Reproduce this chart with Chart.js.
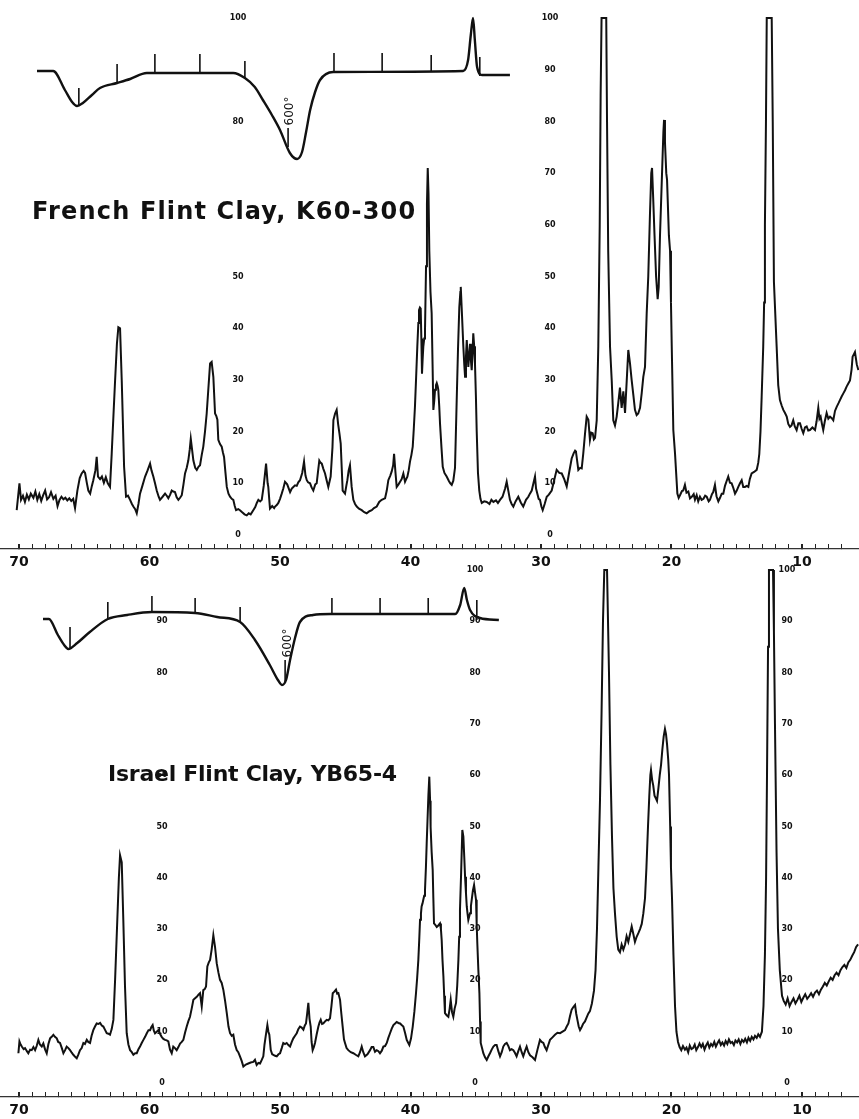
<!DOCTYPE html>
<html>
<head>
<meta charset="utf-8">
<title>Flint clay X-ray and DTA patterns</title>
<script src="https://cdn.jsdelivr.net/npm/chart.js@4/dist/chart.umd.min.js"></script>
<style>
  body { margin: 0; background: #fff; width: 859px; height: 1119px; position: relative; overflow: hidden; }
  .panel { position: absolute; left: 0; width: 859px; }
  #topPanel { top: 0; height: 569px; }
  #bottomPanel { top: 555px; height: 562px; }
</style>
</head>
<body>
<div class="panel" id="topPanel"><canvas id="frenchChart"></canvas></div>
<div class="panel" id="bottomPanel"><canvas id="israelChart"></canvas></div>
<script>
// 2-theta (degrees) and intensity
const frenchTwoTheta = [70.18,69.97,69.85,69.7,69.55,69.4,69.25,69.1,68.9,68.75,68.6,68.45,68.3,68.15,68.0,67.85,67.7,67.55,67.37,67.2,67.05,66.9,66.75,66.6,66.45,66.3,66.15,66.0,65.85,65.71,65.53,65.35,65.2,65.05,64.94,64.8,64.69,64.55,64.42,64.31,64.15,64.05,63.95,63.79,63.65,63.5,63.35,63.2,63.03,62.9,62.75,62.64,62.5,62.39,62.26,62.13,61.95,61.8,61.65,61.49,61.35,61.24,61.1,60.98,60.85,60.73,60.55,60.34,60.15,59.96,59.85,59.71,59.58,59.45,59.3,59.2,59.0,58.81,58.68,58.56,58.42,58.3,58.18,58.05,57.92,57.79,57.66,57.53,57.4,57.28,57.15,57.03,56.92,56.84,56.74,56.64,56.5,56.38,56.25,56.13,56.0,55.88,55.75,55.62,55.5,55.36,55.24,55.11,54.98,54.88,54.8,54.73,54.6,54.47,54.38,54.29,54.18,54.08,53.95,53.83,53.7,53.58,53.47,53.37,53.2,53.07,52.9,52.72,52.55,52.4,52.25,52.05,51.9,51.78,51.66,51.52,51.4,51.25,51.07,50.95,50.9,50.77,50.6,50.45,50.38,50.25,50.13,50.0,49.87,49.75,49.62,49.45,49.23,49.1,48.98,48.85,48.72,48.6,48.47,48.3,48.16,48.05,47.95,47.85,47.7,47.58,47.45,47.3,47.19,47.1,46.99,46.9,46.8,46.68,46.55,46.42,46.3,46.12,45.98,45.91,45.78,45.66,45.55,45.45,45.35,45.2,45.02,44.92,44.84,44.74,44.64,44.51,44.38,44.25,44.12,43.95,43.74,43.55,43.36,43.15,42.97,42.8,42.59,42.4,42.21,42.05,41.95,41.82,41.7,41.55,41.44,41.33,41.26,41.15,41.06,40.92,40.8,40.68,40.55,40.42,40.33,40.24,40.14,40.04,39.93,39.83,39.75,39.66,39.57,39.48,39.4,39.35,39.28,39.22,39.17,39.12,39.07,39.02,38.95,38.89,38.81,38.74,38.68,38.62,38.56,38.47,38.38,38.31,38.25,38.18,38.12,38.05,37.99,37.92,37.87,37.8,37.74,37.63,37.53,37.4,37.23,37.05,36.95,36.84,36.72,36.59,36.46,36.36,36.26,36.18,36.15,36.08,35.95,35.88,35.82,35.75,35.69,35.63,35.57,35.5,35.44,35.38,35.31,35.25,35.19,35.12,35.06,34.99,34.93,34.83,34.73,34.64,34.54,34.35,34.16,33.95,33.8,33.65,33.45,33.3,33.14,32.95,32.75,32.63,32.5,32.38,32.25,32.12,31.95,31.74,31.55,31.36,31.15,30.97,30.85,30.71,30.58,30.46,30.38,30.28,30.18,30.08,29.97,29.87,29.72,29.56,29.4,29.18,29.0,28.8,28.6,28.41,28.22,28.03,27.85,27.65,27.5,27.39,27.32,27.14,27.0,26.88,26.76,26.63,26.5,26.37,26.25,26.15,26.04,25.95,25.86,25.73,25.61,25.5,25.43,25.36,25.15,25.0,24.94,24.85,24.71,24.58,24.46,24.33,24.2,24.08,23.95,23.82,23.69,23.56,23.43,23.31,23.18,23.05,22.92,22.8,22.67,22.55,22.41,22.28,22.16,22.03,21.9,21.78,21.65,21.55,21.49,21.4,21.3,21.18,21.06,20.98,20.88,20.75,20.62,20.57,20.5,20.4,20.34,20.2,20.11,20.04,19.98,19.86,19.73,19.55,19.45,19.35,19.2,19.1,18.97,18.85,18.71,18.58,18.45,18.3,18.2,18.07,17.95,17.82,17.69,17.55,17.42,17.3,17.15,17.05,16.9,16.8,16.67,16.55,16.41,16.28,16.15,16.03,15.9,15.78,15.65,15.52,15.39,15.26,15.13,15.0,14.88,14.75,14.62,14.5,14.37,14.24,14.11,14.0,13.86,13.67,13.47,13.35,13.27,13.18,13.09,12.97,12.9,12.84,12.76,12.7,12.5,12.32,12.24,12.15,11.94,11.82,11.69,11.55,11.43,11.3,11.17,11.05,10.92,10.8,10.67,10.55,10.41,10.28,10.15,10.02,9.9,9.77,9.64,9.52,9.39,9.2,9.0,8.88,8.75,8.66,8.57,8.47,8.37,8.25,8.11,7.98,7.85,7.72,7.6,7.47,7.34,7.2,7.09,6.96,6.83,6.7,6.58,6.45,6.32,6.2,6.12,6.02,5.94,5.8,5.68];
const frenchIntensity = [4.8,10.0,6.8,7.6,6.4,7.8,6.9,8.0,7.2,8.4,6.8,7.9,6.6,7.7,8.6,6.9,7.3,8.3,7.0,7.6,5.6,6.8,7.4,6.9,7.2,6.7,7.1,6.6,7.0,5.2,8.6,11.0,11.9,12.4,12.0,10.0,8.6,8.0,9.5,10.6,12.5,15.1,11.3,10.8,11.3,10.1,11.2,10.0,9.3,15.7,24.0,29.9,37.0,40.2,40.0,29.9,13.2,7.4,7.6,6.8,6.0,5.5,5.0,4.2,6.0,8.0,9.5,11.3,12.5,13.8,12.5,11.3,10.0,8.6,7.4,6.8,7.4,8.0,7.6,7.1,7.8,8.6,8.4,8.3,7.3,6.8,7.2,7.7,9.8,11.9,13.0,14.4,16.5,18.6,16.5,14.4,13.0,12.6,13.2,13.5,15.5,17.1,20.0,23.5,28.0,33.2,33.5,30.6,23.5,23.0,22.3,18.4,17.6,17.1,16.0,15.1,12.0,9.3,8.0,7.4,7.0,6.8,5.6,4.8,5.0,4.8,4.4,4.0,3.8,4.2,4.0,4.8,5.4,6.2,6.8,6.5,6.8,9.5,13.8,10.0,9.3,5.1,5.6,5.2,5.5,5.8,6.2,7.0,8.0,9.0,10.3,9.8,8.3,9.0,9.3,9.6,9.5,10.2,10.6,12.0,14.2,11.5,10.6,10.2,10.0,9.2,8.6,9.8,10.0,12.0,14.4,14.0,13.8,12.8,11.9,10.5,9.3,11.3,17.0,22.2,23.5,24.2,21.5,19.7,17.7,8.6,8.0,9.5,10.6,12.5,13.5,9.3,6.8,6.0,5.5,5.1,4.8,4.4,4.2,4.6,4.8,5.2,5.5,6.4,6.8,7.0,7.1,8.6,10.6,11.5,12.3,13.5,15.7,12.0,9.3,9.8,10.3,10.8,11.9,10.3,10.8,11.3,12.5,14.2,15.5,17.1,20.5,24.8,30.5,36.4,41.0,43.5,44.0,43.8,38.0,31.2,34.0,36.4,38.0,39.6,52.0,64.0,71.0,66.0,55.0,47.0,42.9,33.0,24.2,26.0,28.1,29.0,29.4,28.8,28.1,25.0,21.6,17.0,13.2,12.0,11.3,10.4,10.0,9.7,10.5,13.0,26.1,36.0,44.1,47.0,48.0,44.0,36.4,33.0,30.6,34.5,37.7,35.0,32.5,35.0,37.0,34.0,31.9,35.0,39.0,36.5,33.2,27.0,20.3,12.0,8.6,7.0,6.2,6.5,6.4,6.0,6.8,6.4,6.7,6.2,6.8,7.4,9.0,10.3,8.5,6.8,6.0,5.5,6.5,7.4,6.3,5.5,6.8,7.4,8.0,8.6,10.0,11.3,9.0,8.0,7.0,6.8,5.5,4.8,6.0,7.4,7.8,8.6,10.5,12.6,12.0,11.9,10.8,9.4,12.0,14.8,15.8,16.3,16.1,12.6,13.0,12.9,15.8,19.5,22.9,22.3,18.4,19.8,19.7,18.5,18.8,22.2,36.4,60.0,85.0,100,100,100,80.0,55.0,36.4,29.9,22.2,21.2,22.9,25.5,28.5,24.6,27.8,23.6,29.9,35.8,33.2,29.9,27.0,24.2,23.2,23.5,24.6,27.5,30.6,32.5,42.9,50.0,62.0,70.0,71.0,65.0,58.0,50.0,45.6,48.0,58.0,68.0,78.0,80.3,76.0,70.0,68.7,58.0,55.0,45.0,36.4,20.3,15.8,8.0,7.2,7.7,8.5,8.6,9.7,8.2,8.4,7.1,7.4,7.9,6.8,7.7,6.5,7.4,6.8,7.0,7.6,7.4,6.5,6.8,7.9,8.3,9.7,7.5,6.5,7.2,8.0,8.0,9.5,10.4,11.3,10.1,10.0,9.1,8.0,8.6,9.3,10.0,10.6,9.3,9.3,9.5,9.3,10.8,11.9,12.2,12.6,14.0,15.7,20.0,26.7,36.4,45.0,60.0,80.0,100,100,100,80.0,49.0,36.4,29.0,26.1,25.0,24.2,23.6,22.9,21.5,20.9,21.2,22.2,21.0,20.3,21.6,21.6,20.5,19.7,20.8,21.0,20.2,20.3,20.8,20.3,22.0,24.6,22.5,22.9,21.5,20.3,22.0,23.6,22.5,22.9,22.6,22.2,24.0,24.8,25.5,26.1,26.8,27.4,28.0,28.7,29.3,29.9,32.0,34.5,35.0,35.4,33.0,31.9];

// 2-theta (degrees) and intensity
const israelTwoTheta = [70.05,69.97,69.88,69.79,69.65,69.54,69.4,69.29,69.15,69.03,68.9,68.77,68.65,68.52,68.4,68.26,68.14,68.0,67.88,67.75,67.62,67.5,67.37,67.25,67.11,67.0,66.86,66.72,66.6,66.47,66.35,66.22,66.09,65.96,65.84,65.7,65.58,65.45,65.33,65.2,65.07,64.95,64.81,64.7,64.56,64.44,64.31,64.18,64.05,63.92,63.79,63.66,63.54,63.4,63.28,63.15,63.03,62.9,62.77,62.64,62.47,62.35,62.26,62.13,62.01,61.88,61.75,61.62,61.49,61.36,61.24,61.1,60.98,60.85,60.73,60.6,60.47,60.34,60.21,60.08,59.96,59.86,59.76,59.67,59.58,59.45,59.33,59.2,59.07,58.94,58.81,58.68,58.56,58.43,58.3,58.18,58.05,57.92,57.79,57.66,57.53,57.41,57.28,57.15,57.03,56.9,56.77,56.64,56.51,56.38,56.25,56.13,56.0,55.88,55.77,55.67,55.57,55.46,55.36,55.24,55.11,54.98,54.85,54.72,54.6,54.47,54.34,54.21,54.08,53.95,53.83,53.7,53.58,53.45,53.32,53.2,53.07,52.94,52.81,52.62,52.43,52.25,52.05,51.92,51.79,51.66,51.53,51.4,51.28,51.19,51.1,50.97,50.89,50.82,50.71,50.6,50.51,50.38,50.25,50.12,50.0,49.87,49.75,49.62,49.49,49.36,49.23,49.1,48.98,48.85,48.72,48.6,48.47,48.34,48.21,48.1,48.01,47.92,47.83,47.74,47.65,47.58,47.5,47.41,47.32,47.19,47.06,46.97,46.88,46.78,46.68,46.55,46.42,46.3,46.17,46.06,45.96,45.84,45.71,45.62,45.53,45.4,45.3,45.2,45.1,45.02,44.9,44.77,44.58,44.38,44.2,44.0,43.87,43.74,43.62,43.49,43.3,43.1,42.98,42.85,42.72,42.59,42.46,42.34,42.2,42.08,41.95,41.82,41.7,41.57,41.44,41.31,41.18,41.06,40.93,40.8,40.68,40.55,40.42,40.29,40.19,40.09,39.96,39.83,39.7,39.58,39.49,39.4,39.33,39.27,39.2,39.15,39.08,39.02,38.95,38.89,38.82,38.76,38.7,38.63,38.56,38.5,38.46,38.38,38.3,38.25,38.2,38.1,37.99,37.87,37.74,37.67,37.61,37.55,37.48,37.42,37.36,37.23,37.1,37.0,36.92,36.82,36.72,36.62,36.51,36.42,36.33,36.27,36.21,36.12,36.03,35.95,35.88,35.82,35.75,35.69,35.63,35.57,35.5,35.44,35.37,35.31,35.22,35.13,35.05,34.98,34.93,34.88,34.8,34.72,34.67,34.62,34.52,34.42,34.29,34.16,34.03,33.91,33.78,33.65,33.52,33.4,33.27,33.14,33.01,32.89,32.76,32.63,32.5,32.38,32.25,32.12,32.0,31.87,31.74,31.61,31.48,31.36,31.23,31.1,30.97,30.84,30.65,30.46,30.27,30.08,29.95,29.82,29.7,29.57,29.44,29.31,29.12,28.93,28.74,28.54,28.35,28.16,28.03,27.9,27.78,27.65,27.52,27.39,27.3,27.21,27.11,27.01,26.9,26.78,26.63,26.5,26.38,26.25,26.1,25.94,25.82,25.71,25.6,25.48,25.36,25.25,25.15,24.94,24.79,24.68,24.56,24.45,24.33,24.2,24.08,23.95,23.82,23.69,23.56,23.44,23.31,23.18,23.05,22.92,22.8,22.67,22.54,22.41,22.28,22.16,22.03,21.92,21.8,21.7,21.62,21.57,21.48,21.4,21.3,21.2,21.11,21.0,20.9,20.8,20.7,20.6,20.5,20.42,20.34,20.25,20.19,20.1,20.04,19.96,19.85,19.73,19.62,19.5,19.38,19.25,19.12,18.97,18.85,18.72,18.6,18.47,18.35,18.22,18.1,17.97,17.85,17.72,17.6,17.47,17.35,17.22,17.1,16.97,16.85,16.72,16.6,16.47,16.35,16.22,16.1,15.97,15.85,15.72,15.6,15.47,15.35,15.22,15.1,14.97,14.85,14.72,14.6,14.47,14.35,14.22,14.1,13.97,13.85,13.72,13.6,13.47,13.35,13.22,13.07,12.95,12.84,12.75,12.68,12.6,12.53,12.22,12.15,12.07,11.95,11.84,11.7,11.53,11.4,11.25,11.1,10.95,10.8,10.65,10.5,10.35,10.2,10.05,9.9,9.75,9.6,9.45,9.3,9.15,9.0,8.85,8.7,8.55,8.4,8.25,8.1,7.95,7.8,7.65,7.5,7.35,7.2,7.05,6.9,6.75,6.6,6.45,6.3,6.15,6.0,5.85,5.7];
const israelIntensity = [5.8,8.1,7.5,7.1,6.6,6.8,6.2,5.8,6.5,6.4,7.0,6.4,7.2,8.4,7.5,7.1,7.7,6.5,5.8,7.6,8.7,9.0,9.4,9.0,8.7,8.0,7.8,6.8,5.8,6.4,7.1,6.8,6.4,5.9,5.5,5.1,4.8,5.6,6.4,6.8,7.8,7.6,8.4,8.0,7.8,9.2,10.3,11.0,11.6,11.5,11.7,11.2,11.0,10.3,9.7,9.6,9.4,10.5,12.3,20.1,31.8,40.0,44.4,43.0,31.8,18.8,9.7,7.5,6.4,6.0,5.5,5.8,5.8,6.6,7.1,7.8,8.4,9.0,9.7,10.3,10.3,10.9,11.3,10.2,9.7,10.0,10.3,9.6,9.0,8.6,8.4,8.3,8.1,6.5,5.8,7.1,6.8,6.4,7.0,7.7,8.0,8.4,9.8,11.0,12.0,12.9,14.5,16.2,16.5,16.8,17.2,17.5,14.9,18.1,18.3,18.8,22.7,23.5,24.0,26.0,28.8,26.5,23.3,21.5,20.1,19.5,18.1,16.0,13.6,11.0,9.7,9.2,9.4,7.5,6.4,6.0,5.2,4.3,3.2,3.6,3.8,4.0,4.1,4.5,3.5,3.9,3.8,4.5,5.2,7.5,9.1,11.3,10.0,9.4,6.4,5.6,5.5,5.3,5.2,5.6,5.8,6.8,7.8,7.6,7.8,7.4,7.1,8.0,8.7,9.2,9.7,10.5,11.0,10.8,10.4,11.2,11.6,13.5,15.6,12.5,11.0,8.0,6.4,7.0,7.8,9.5,11.0,11.8,12.3,11.5,11.6,12.0,12.3,12.2,12.6,15.0,17.5,17.8,18.2,17.4,17.5,16.2,13.5,11.0,8.5,7.8,6.8,6.4,6.0,5.8,5.5,5.2,6.0,7.1,6.0,5.2,5.6,6.4,7.0,7.0,6.1,6.4,6.2,5.8,6.3,7.1,7.2,7.8,8.8,9.7,10.6,11.3,11.6,11.9,11.7,11.6,11.3,11.0,9.8,8.4,7.9,7.4,8.7,11.0,14.0,17.5,20.5,24.0,28.0,31.8,33.0,34.4,35.0,35.7,36.5,37.6,42.0,46.7,51.0,56.0,59.7,55.0,49.9,45.0,41.5,36.0,31.1,30.8,30.4,30.7,31.1,30.0,27.8,24.0,20.8,17.0,13.6,13.2,12.9,14.5,16.2,13.8,12.9,14.5,15.6,19.0,24.0,28.5,33.7,41.0,49.3,48.0,44.0,40.2,37.0,34.4,33.0,31.8,32.5,33.1,34.5,35.7,37.5,38.6,37.0,35.7,31.0,27.2,22.0,17.5,12.0,7.8,6.8,5.8,5.0,4.5,5.2,5.8,6.5,7.1,7.4,7.4,6.2,5.2,6.0,7.1,7.6,7.8,7.2,6.4,6.6,6.4,5.9,5.2,6.2,7.1,6.0,5.2,6.2,7.1,6.0,5.4,5.0,4.5,6.5,8.4,8.0,7.8,7.0,6.4,7.4,8.4,8.9,9.4,9.8,9.7,10.0,10.3,11.0,11.6,13.0,14.3,14.8,15.2,13.5,12.3,11.0,10.3,10.8,11.5,12.0,12.8,13.5,14.0,15.5,18.0,22.0,30.0,42.0,55.0,72.0,90.0,100,100,80.0,62.0,48.0,38.0,33.0,28.5,26.0,25.5,27.0,26.0,27.0,28.6,27.5,29.0,30.5,29.0,27.5,28.5,29.2,30.0,31.0,33.0,36.0,42.0,50.0,56.0,60.0,61.0,59.0,58.0,56.0,55.5,55.0,57.5,60.0,62.0,65.0,67.5,69.0,68.0,66.0,63.0,60.0,50.0,42.0,36.0,25.0,15.0,10.0,8.0,7.0,6.4,7.2,6.5,6.9,6.0,7.3,6.6,6.8,7.5,6.4,7.0,7.7,7.0,7.6,6.5,7.3,7.9,6.9,7.6,7.2,8.0,7.1,7.8,8.3,7.4,7.9,7.3,8.2,7.6,8.5,7.8,8.0,7.4,8.3,7.9,8.5,7.6,8.4,8.0,8.6,7.9,8.8,8.2,9.0,8.5,9.2,8.8,9.5,9.0,10.0,15.0,25.0,40.0,60.0,85.0,100,100,88.0,70.0,45.0,30.0,22.0,17.0,16.0,15.3,16.5,15.0,15.8,16.5,15.5,16.2,17.0,15.8,16.6,17.3,16.4,16.9,17.5,16.8,17.6,18.0,17.3,18.2,18.8,19.5,19.0,19.8,20.5,20.1,21.0,21.5,21.0,22.0,22.6,23.0,22.4,23.5,24.0,24.8,25.5,26.5,27.0];

// DTA insets: recorder time (min) against temperature difference, plus the 100-degree marks
const frenchDtaTime = [0,3.6,6.2,7.8,8.9,10.2,12.2,14,17.8,20.7,24.4,43.6,46.2,48.4,50.2,52.2,54,56.2,57.8,58.9,59.8,60.7,61.8,62.9,65.8,94.7,95.8,96.4,96.9,97.3,97.8,98.9,105.1];
const frenchDtaSignal = [0.2,0.2,-3.6,-6,-6.8,-6.2,-4.6,-3.2,-2.2,-1.4,-0.2,-0.2,-1.2,-3,-5.6,-8.6,-11.6,-16.2,-17.4,-16,-12,-7.6,-4,-1.6,0,0.2,2.4,7.4,10.8,6.4,1,-0.6,-0.6];
const frenchDtaMarkTime = [9.3,17.8,26.2,36.2,46.2,55.8,66,76.7,87.6,98.4];
const frenchDtaMarkLow = [-6.6,-2.2,0,0,-1.2,-15,0,0,0,-0.8];
const frenchDtaMarkHigh = [-3.2,1.6,3.6,3.6,2.2,-11.2,3.8,3.8,3.4,3];

const israelDtaTime = [0,1.3,3.3,4.7,5.6,7.6,10.4,14.4,18.7,24.2,33.8,38.7,43.8,47.1,50.4,52.2,53.1,54,54.9,56,57.1,60,63.8,91.6,92.7,93.6,94.2,94.9,97.1,101.3];
const israelDtaSignal = [-1,-1,-4.2,-6.2,-7,-5.8,-3.6,-1,-0.2,0.4,0.2,-0.6,-1.6,-5.2,-10.2,-13.2,-14.2,-13.2,-9.2,-4.8,-1.6,-0.2,0,0,1.8,5.2,2.8,0.8,-0.8,-1.2];
const israelDtaMarkTime = [6,14.4,24.2,33.8,43.8,53.8,64.2,74.9,85.6,96.4];
const israelDtaMarkLow = [-7,-1,0.4,0,-1.6,-13.8,0,0,0,-1.2];
const israelDtaMarkHigh = [-2.6,2.4,3.6,3.2,1.4,-9.2,3.2,3.2,3.2,2.8];

// intensity scale labels printed inside the chart, and the 2-theta where each column sits
const frenchScaleColumns = [53.22, 29.31];
const frenchScaleLabels = [[100,80,50,40,30,20,10,0],[100,90,80,70,60,50,40,30,20,10,0]];
const israelScaleColumns = [59.04, 35.06, 11.15];
const israelScaleLabels = [[90,80,60,50,40,30,20,10,0],[100,90,80,70,60,50,40,30,20,10,0],[100,90,80,70,60,50,40,30,20,10,0]];

const twoThetaMin = 5.63, twoThetaMax = 71.46;

function zip(xs, ys) {
    return xs.map((x, i) => ({ x: x, y: ys[i] }));
}

// each mark is a short vertical segment, separated from the next by a gap
function markSegments(ts, lows, highs) {
    const pts = [];
    ts.forEach((t, i) => {
        pts.push({ x: t, y: lows[i] }, { x: t, y: highs[i] }, { x: t, y: null });
    });
    return pts;
}

const panelText = {
    id: "panelText",
    beforeDatasetsDraw(chart, args, opts) {
        const ctx = chart.ctx;
        const x = chart.scales.x, y = chart.scales.y;
        ctx.save();
        ctx.fillStyle = "#111";
        ctx.font = 'bold 8px "DejaVu Sans"';
        ctx.textAlign = "center";
        ctx.textBaseline = "middle";
        opts.columns.forEach((col, i) => {
            const px = x.getPixelForValue(col);
            opts.labels[i].forEach(v => ctx.fillText(String(v), px, y.getPixelForValue(v)));
        });
        ctx.restore();
    },
    afterDatasetsDraw(chart, args, opts) {
        const ctx = chart.ctx;
        const x = chart.scales.x, y = chart.scales.y;
        const xd = chart.scales.xd, yd = chart.scales.yd;
        ctx.save();
        ctx.fillStyle = "#111";

        // sample name, spaced out to the printed width
        ctx.font = "bold " + opts.title.size + 'px "DejaVu Sans"';
        ctx.textAlign = "left";
        ctx.textBaseline = "middle";
        const x0 = x.getPixelForValue(opts.title.from);
        const x1 = x.getPixelForValue(opts.title.to);
        const w = ctx.measureText(opts.title.text).width;
        if ("letterSpacing" in ctx) {
            ctx.letterSpacing = ((x1 - x0 - w) / (opts.title.text.length - 1)) + "px";
        }
        ctx.fillText(opts.title.text, x0, y.getPixelForValue(opts.title.at));
        if ("letterSpacing" in ctx) ctx.letterSpacing = "0px";

        // 600° mark on the DTA curve
        ctx.font = '12px "DejaVu Sans"';
        ctx.textAlign = "center";
        ctx.translate(xd.getPixelForValue(opts.mark.t), yd.getPixelForValue(opts.mark.v));
        ctx.rotate(-Math.PI / 2);
        ctx.fillText("600°", 0, 0);
        ctx.restore();
    }
};

function makeChart(canvasId, cfg) {
    return new Chart(document.getElementById(canvasId), {
        type: "line",
        data: {
            datasets: [
                {
                    label: "X-ray",
                    data: zip(cfg.theta, cfg.intensity),
                    xAxisID: "x", yAxisID: "y",
                    borderColor: "#111", borderWidth: 2,
                    pointRadius: 0, tension: 0
                },
                {
                    label: "DTA",
                    data: zip(cfg.dtaTime, cfg.dtaSignal),
                    xAxisID: "xd", yAxisID: "yd",
                    borderColor: "#111", borderWidth: 2.4,
                    pointRadius: 0, cubicInterpolationMode: "monotone"
                },
                {
                    label: "DTA marks",
                    data: markSegments(cfg.markTime, cfg.markLow, cfg.markHigh),
                    xAxisID: "xd", yAxisID: "yd",
                    borderColor: "#111", borderWidth: 1.6,
                    pointRadius: 0, spanGaps: false
                }
            ]
        },
        options: {
            responsive: true,
            maintainAspectRatio: false,
            animation: false,
            layout: { padding: 0, autoPadding: false },
            plugins: {
                legend: { display: false },
                tooltip: { enabled: false },
                panelText: { columns: cfg.columns, labels: cfg.labels, title: cfg.title, mark: cfg.mark }
            },
            scales: {
                x: {
                    type: "linear",
                    reverse: true,
                    min: twoThetaMin,
                    max: twoThetaMax,
                    position: "bottom",
                    // fixed axis band, and no side padding so the plot runs edge to edge
                    afterFit: scale => {
                        scale.height = 20;
                        scale.paddingLeft = 0;
                        scale.paddingRight = 0;
                    },
                    border: { display: true, color: "#333", width: 1.2 },
                    grid: {
                        drawOnChartArea: false,
                        drawTicks: true,
                        tickLength: -5,
                        color: c => Number.isInteger(c.tick.value) ? "#222" : "rgba(0,0,0,0)",
                        lineWidth: c => c.tick.value % 10 === 0 ? 2 : 1
                    },
                    ticks: {
                        stepSize: 1,
                        autoSkip: false,
                        maxRotation: 0,
                        padding: 10,
                        color: "#111",
                        font: { family: "DejaVu Sans", weight: "bold", size: 14 },
                        callback: v => (Number.isInteger(v) && v % 10 === 0) ? String(v) : ""
                    }
                },
                y: { type: "linear", display: false, min: cfg.yMin, max: cfg.yMax },
                xd: { type: "linear", display: false, min: cfg.dtaXMin, max: cfg.dtaXMax },
                yd: { type: "linear", display: false, min: cfg.dtaYMin, max: cfg.dtaYMax }
            }
        },
        plugins: [panelText]
    });
}

makeChart("frenchChart", {
    theta: frenchTwoTheta, intensity: frenchIntensity,
    dtaTime: frenchDtaTime, dtaSignal: frenchDtaSignal,
    markTime: frenchDtaMarkTime, markLow: frenchDtaMarkLow, markHigh: frenchDtaMarkHigh,
    columns: frenchScaleColumns, labels: frenchScaleLabels,
    title: { text: "French Flint Clay, K60-300", from: 69.0, to: 39.65, at: 62.3, size: 24 },
    mark: { t: 56.2, v: -7.8 },
    yMin: -2.71, yMax: 103.5,
    dtaXMin: -8.22, dtaXMax: 182.67, dtaYMin: -95.4, dtaYMax: 14.4
});

makeChart("israelChart", {
    theta: israelTwoTheta, intensity: israelIntensity,
    dtaTime: israelDtaTime, dtaSignal: israelDtaSignal,
    markTime: israelDtaMarkTime, markLow: israelDtaMarkLow, markHigh: israelDtaMarkHigh,
    columns: israelScaleColumns, labels: israelScaleLabels,
    title: { text: "Israel Flint Clay, YB65-4", from: 63.18, to: 41.03, at: 60.0, size: 22 },
    mark: { t: 54.4, v: -5.8 },
    yMin: -2.73, yMax: 102.9,
    dtaXMin: -9.56, dtaXMax: 181.33, dtaYMin: -96.6, dtaYMax: 11.8
});
</script>
</body>
</html>
